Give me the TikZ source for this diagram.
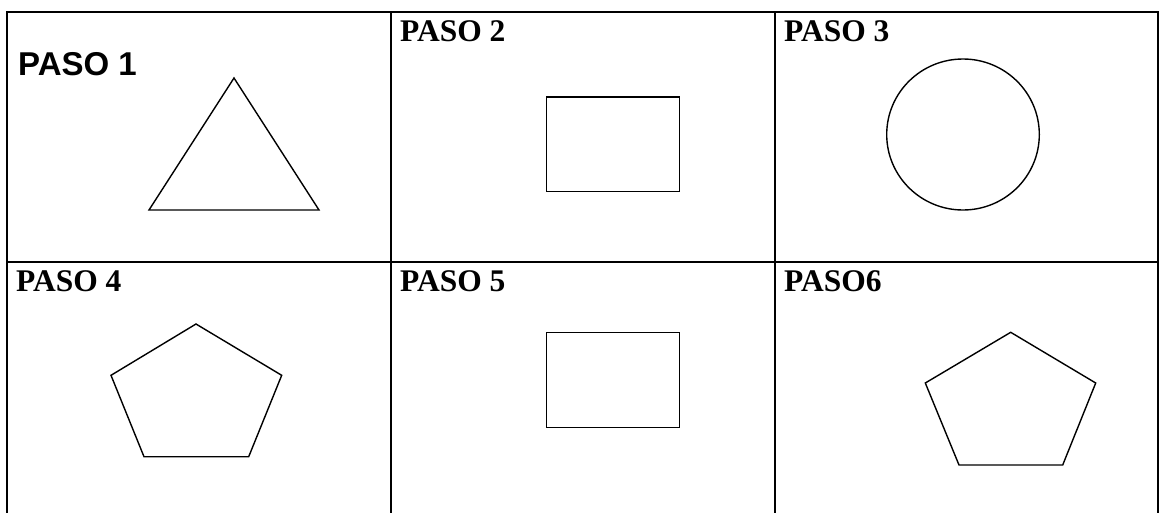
\documentclass[tikz,border=0pt]{standalone}
\usepackage{fontspec}
\setmainfont{Liberation Serif}
\newfontfamily\arialfont{Liberation Sans}
\tikzset{
  grid/.style={line width=2pt, line cap=rect},
  shapeline/.style={line width=1.4pt, line join=miter},
  serifhead/.style={anchor=base west, inner sep=0pt, font=\bfseries\fontsize{31.5}{36}\selectfont},
  sanshead/.style={anchor=base west, inner sep=0pt, font=\arialfont\bfseries\fontsize{33}{38}\selectfont},
}
\begin{document}
\begin{tikzpicture}[x=1pt,y=-1pt]
\useasboundingbox (0,0) rectangle (1159,512);
% table grid
\draw[grid] (7.3,11.7) -- (1158,11.7);
\draw[grid] (7.3,262.3) -- (1158,262.3);
\draw[grid] (7.3,11.7) -- (7.3,512);
\draw[grid] (391.3,11.7) -- (391.3,512);
\draw[grid] (775,11.7) -- (775,512);
\draw[grid] (1158,11.7) -- (1158,512);
% headings
\node[sanshead]  (p1) at (18,75.7)  {PASO 1};
\node[serifhead] (p2) at (400,41)   {PASO 2};
\node[serifhead] (p3) at (784,41)   {PASO 3};
\node[serifhead] (p4) at (16,291.7) {PASO 4};
\node[serifhead] (p5) at (400,291.7) {PASO 5};
\node[serifhead] (p6) at (784,291.7) {PASO6};
% step 1: triangle
\draw[shapeline] (234,78) -- (319,210) -- (149,210) -- cycle;
% step 2: rectangle
\draw[shapeline] (546.3,97) rectangle (679.7,191.7);
% step 3: circle
\draw[shapeline] (963,134.5) ellipse [x radius=76.3, y radius=75.5];
% step 4: pentagon
\draw[shapeline] (196,324) -- (281.7,375.3) -- (248.7,456.7) -- (144,456.7) -- (111,375.3) -- cycle;
% step 5: rectangle
\draw[shapeline] (546.3,332.7) rectangle (679.7,427.7);
% step 6: pentagon
\draw[shapeline] (1010.7,332.3) -- (1095.7,383) -- (1062.7,465) -- (959,465) -- (925.3,383) -- cycle;
\end{tikzpicture}
\end{document}
